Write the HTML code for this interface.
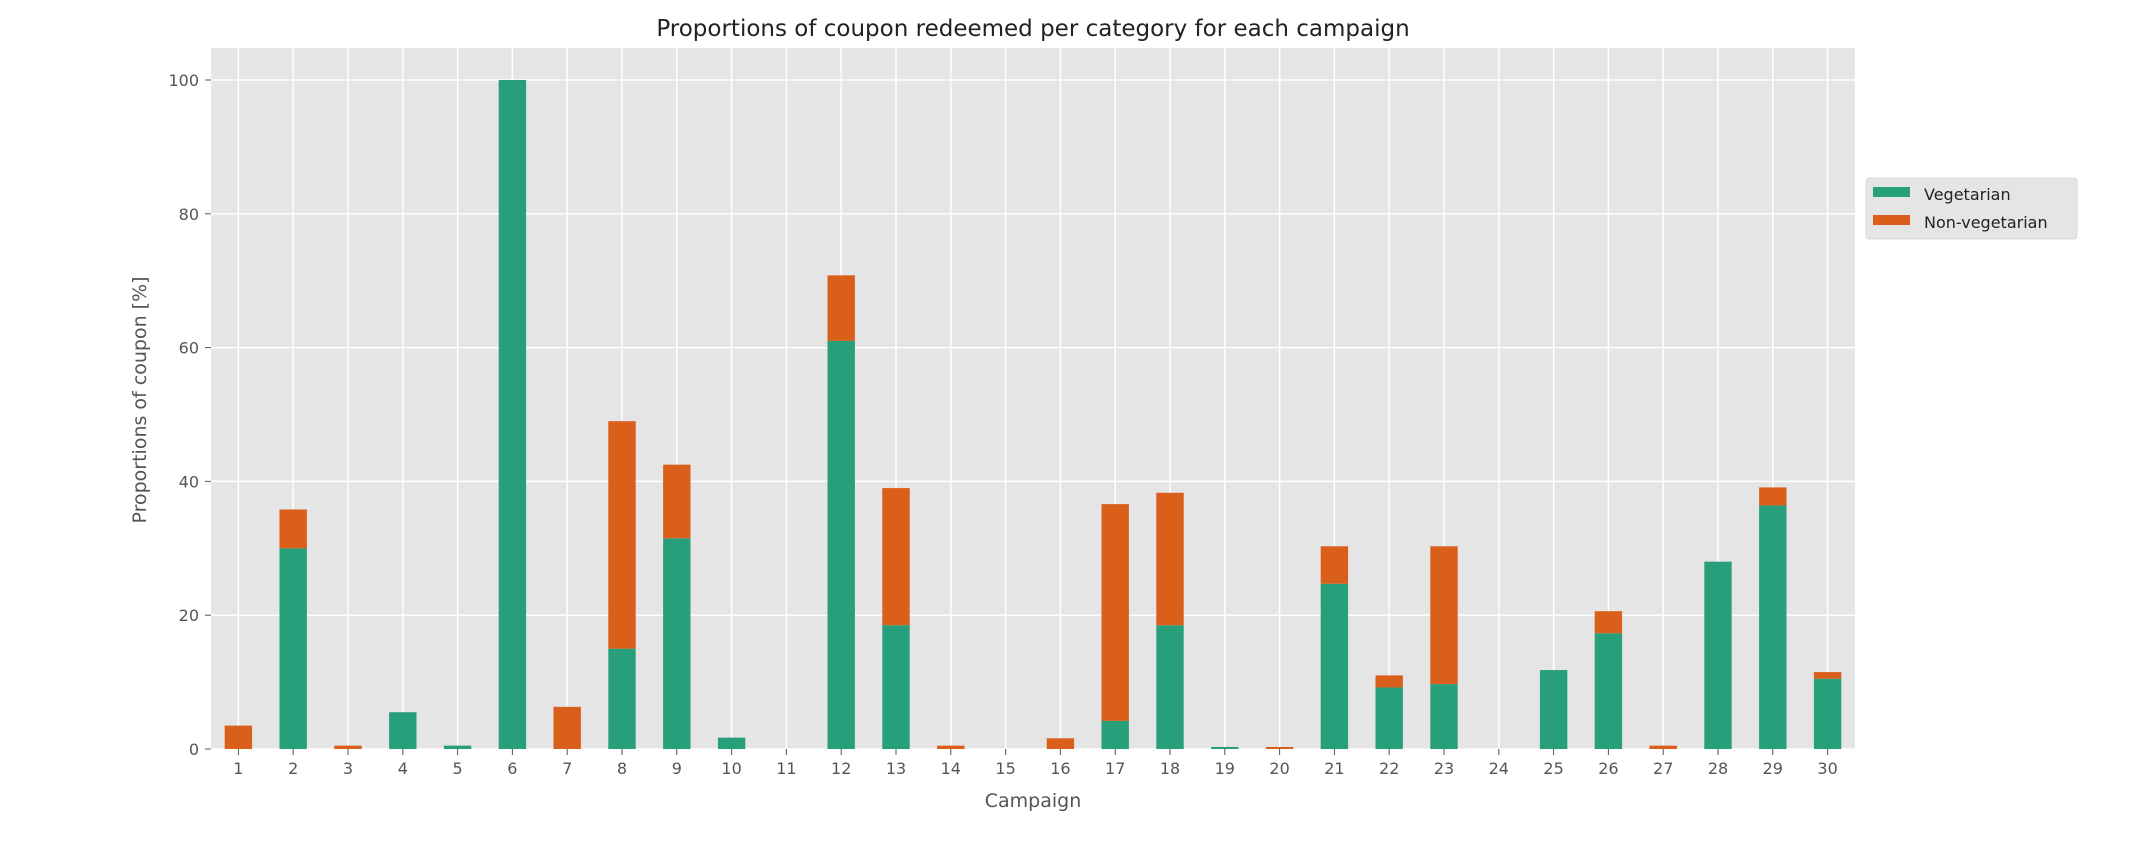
<!DOCTYPE html>
<html><head><meta charset="utf-8"><style>
html,body{margin:0;padding:0;background:#fff;}
svg{display:block;font-family:"DejaVu Sans","Liberation Sans",sans-serif;}
</style></head><body>
<svg id="chart" width="2142" height="856" viewBox="0 0 2142 856">
<rect x="211" y="48" width="1644" height="701" fill="#e5e5e5"/>
<g id="grid"></g><g id="bars"></g><g id="ticks"></g>
<text x="1033" y="36" text-anchor="middle" font-size="23" fill="#222">Proportions of coupon redeemed per category for each campaign</text>
<text x="1033" y="807" text-anchor="middle" font-size="19" fill="#555">Campaign</text>
<text transform="translate(146,400) rotate(-90)" text-anchor="middle" font-size="19" fill="#555">Proportions of coupon [%]</text>
<g>
<rect x="1866" y="178" width="211" height="61" rx="3" fill="#e5e5e5" stroke="#d8d8d8"/>
<rect x="1873" y="187" width="37" height="10" fill="#279f7b"/>
<text x="1924" y="200" font-size="16" fill="#222">Vegetarian</text>
<rect x="1873" y="215" width="37" height="10" fill="#d95f1b"/>
<text x="1924" y="228" font-size="16" fill="#222">Non-vegetarian</text>
</g>
</svg>
<script>
const categories = [1,2,3,4,5,6,7,8,9,10,11,12,13,14,15,16,17,18,19,20,21,22,23,24,25,26,27,28,29,30];
const vegetarian = [0,30,0,5.5,0.5,100,0,15,31.5,1.7,0,61,18.5,0,0,0,4.2,18.5,0.3,0,24.7,9.2,9.7,0,11.8,17.3,0,28,36.4,10.5];
const nonVegetarian = [3.5,5.8,0.5,0,0,0,6.3,34,11,0,0,9.8,20.5,0.5,0,1.6,32.4,19.8,0,0.3,5.6,1.8,20.6,0,0,3.3,0.5,0,2.7,1];
const yTicks = [0,20,40,60,80,100];

const NS = "http://www.w3.org/2000/svg";
const L = 211, R = 1855, T = 48, B = 749;
const y0px = 749, y100px = 80;
const step = (R - L) / categories.length;
function xScale(i){ return L + step * (i + 0.5); }
function yScale(v){ return y0px - (y0px - y100px) * v / 100; }
function mk(tag, attrs, parent){ const e = document.createElementNS(NS, tag); for (const k in attrs) e.setAttribute(k, attrs[k]); parent.appendChild(e); return e; }

const grid = document.getElementById('grid'), bars = document.getElementById('bars'), ticks = document.getElementById('ticks');
yTicks.forEach(v => {
  const y = yScale(v);
  const g = mk('line', {x1:L, x2:R, y1:y, y2:y, stroke:'#fff', 'stroke-width':1.5}, grid);
  
  
  const tk = mk('line', {x1:L-6, x2:L, y1:y, y2:y, stroke:'#555', 'stroke-width':1}, ticks);
  
  
  const t = mk('text', {x:L-12, y:y+6, 'text-anchor':'end', 'font-size':16, fill:'#555'}, ticks);
  t.textContent = v;
  
  
});
categories.forEach((c, i) => {
  const x = xScale(i);
  const g = mk('line', {x1:x, x2:x, y1:T, y2:B, stroke:'#fff', 'stroke-width':1.5}, grid);
  
  
  const tk = mk('line', {x1:x, x2:x, y1:B, y2:B+6, stroke:'#555', 'stroke-width':1}, ticks);
  
  
  const t = mk('text', {x:x, y:B+25, 'text-anchor':'middle', 'font-size':16, fill:'#555'}, ticks);
  t.textContent = c;
  
  
  const w = step * 0.5;
  const v = vegetarian[i], n = nonVegetarian[i];
  if (v > 0) {
    const r = mk('rect', {x:x-w/2, y:yScale(v), width:w, height:yScale(0)-yScale(v), fill:'#279f7b'}, bars);
    
    
  }
  if (n > 0) {
    const r = mk('rect', {x:x-w/2, y:yScale(v+n), width:w, height:yScale(v)-yScale(v+n), fill:'#d95f1b'}, bars);
    
    
  }
});
</script>
</body></html>
